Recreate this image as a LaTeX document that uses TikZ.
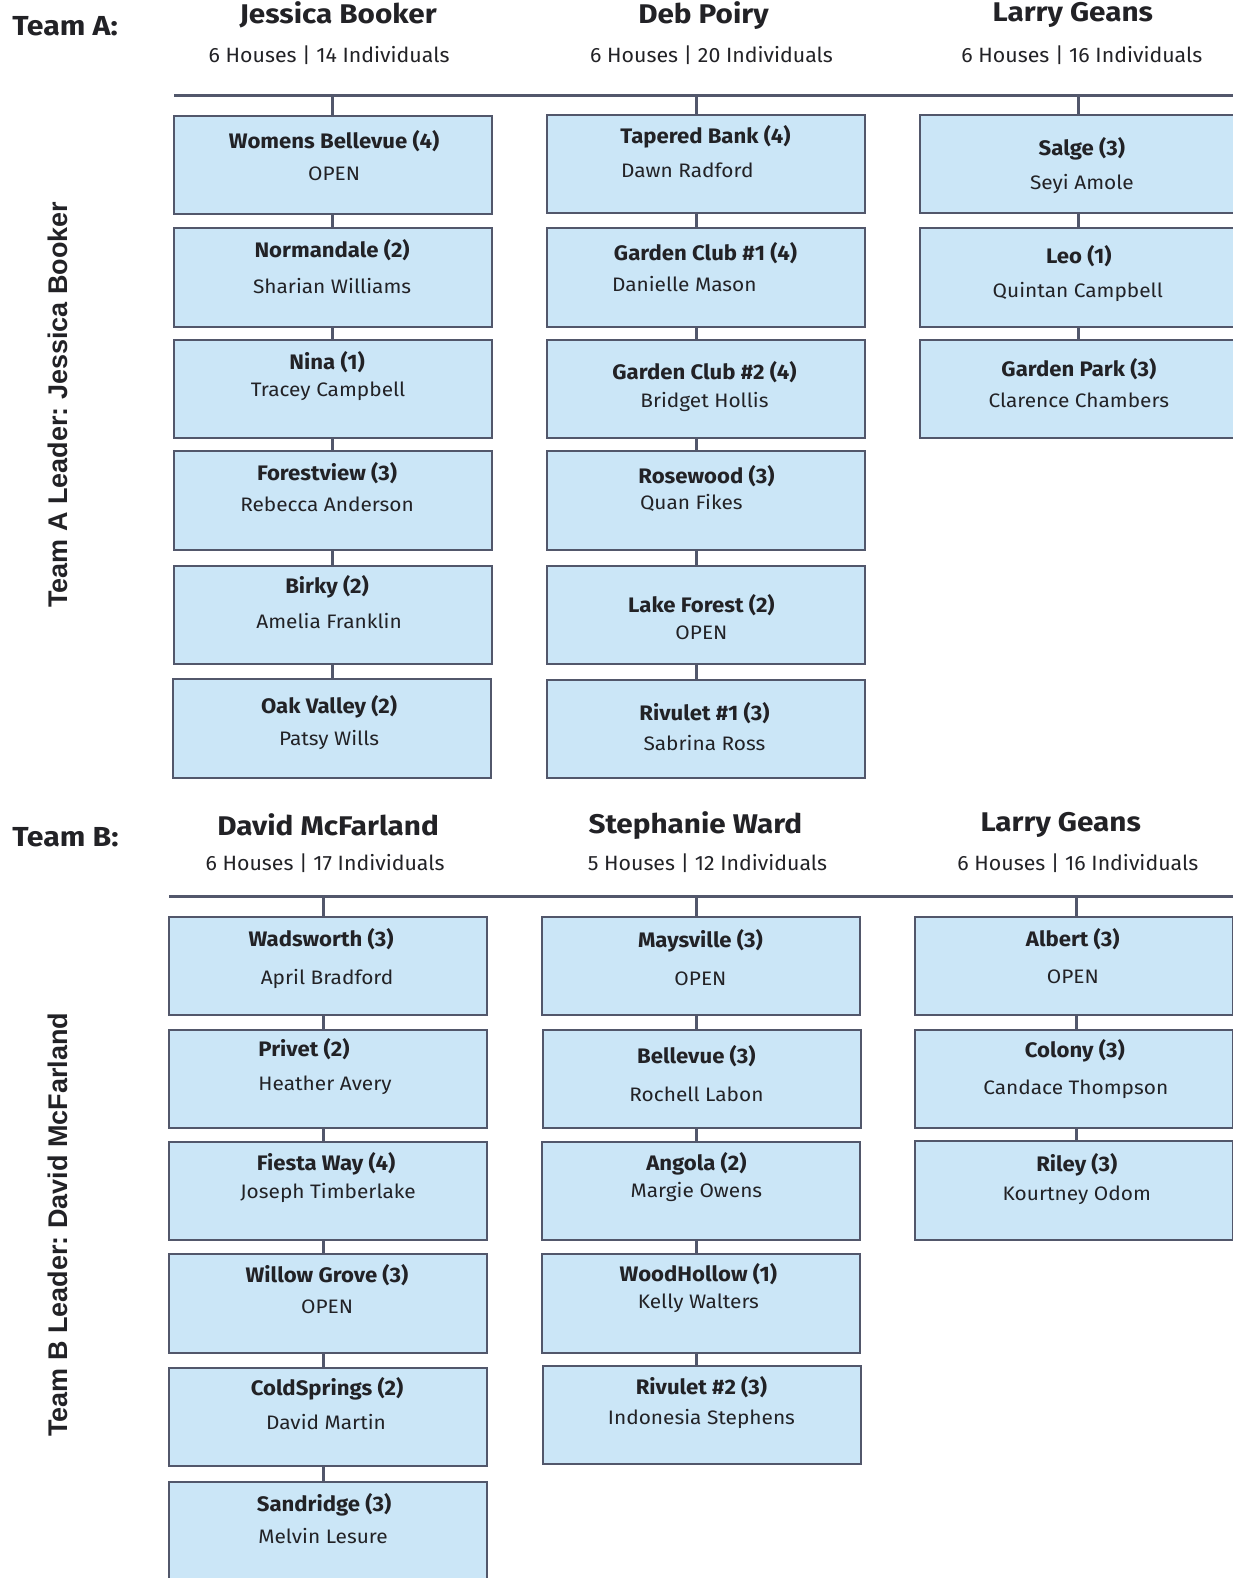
\documentclass[tikz,border=0pt]{standalone}
\usepackage{fontspec}
\setmainfont{Fira Sans}
\newfontfamily\ttlfont{Fira Sans}[FakeStretch=1.055]
\newfontfamily\subfont{Fira Sans}[FakeStretch=1.07]
\newfontfamily\headfont{Fira Sans}[FakeStretch=1.1]
\newfontfamily\hsubfont{Fira Sans}[FakeStretch=1.03]
\newfontfamily\lblfont{Liberation Sans}
\frenchspacing
\definecolor{boxc}{RGB}{203,230,247}
\definecolor{edgec}{RGB}{82,87,107}
\definecolor{txtc}{RGB}{34,34,38}
\tikzset{
  hbox/.style={draw=edgec, fill=boxc, line width=2pt, minimum width=318pt, minimum height=98.6pt, inner sep=0pt, outer sep=0pt},
  conn/.style={draw=edgec, line width=3pt},
  bus/.style={draw=edgec, line width=3.5pt},
  ttl/.style={font=\ttlfont\fontsize{21}{24}\selectfont\bfseries, text=txtc, inner sep=0pt},
  sub/.style={font=\subfont\fontsize{19.5}{22}\selectfont, text=txtc, inner sep=0pt},
  team/.style={font=\headfont\fontsize{27.5}{30}\selectfont\bfseries, text=txtc, inner sep=0pt},
  head/.style={font=\headfont\fontsize{27}{30}\selectfont\bfseries, text=txtc, inner sep=0pt},
  hsub/.style={font=\hsubfont\fontsize{20.7}{24}\selectfont, text=txtc, inner sep=0pt},
  vlbl/.style={font=\lblfont\fontsize{27}{30}\selectfont\bfseries, text=txtc, inner sep=0pt, rotate=90},
}
\begin{document}
\begin{tikzpicture}[x=1.0065pt, y=-1.0065pt]
\useasboundingbox (0,0) rectangle (1225,1568);
% ===== Team A =====
\node[team, anchor=west] (teamA) at (12,26) {Team A:};
\node[head] (hA1) at (336,15) {Jessica Booker};
\node[hsub] (sA1) at (327,55) {6 Houses | 14 Individuals};
\node[head] (hA2) at (699,15) {Deb Poiry};
\node[hsub] (sA2) at (707,55) {6 Houses | 20 Individuals};
\node[head] (hA3) at (1066,15) {Larry Geans};
\node[hsub] (sA3) at (1075,55) {6 Houses | 16 Individuals};
\node[vlbl] (vA) at (57,402) {Team A Leader: Jessica Booker};

\coordinate (busAl) at (173,95);
\coordinate (busAr) at (1232,95);
\draw[bus] (busAl) -- (busAr);
\coordinate (cA1) at (330,95);
\coordinate (cA2) at (692,95);
\coordinate (cA3) at (1072,95);

% column 1
\node[hbox] (a11) at (331,164) {};
\node[hbox] (a12) at (331,275.5) {};
\node[hbox] (a13) at (331,386.5) {};
\node[hbox] (a14) at (331,497.5) {};
\node[hbox] (a15) at (331,611) {};
\node[hbox] (a16) at (330,724) {};
% column 2
\node[hbox] (a21) at (701.5,163) {};
\node[hbox] (a22) at (701.5,275.5) {};
\node[hbox] (a23) at (701.5,386.5) {};
\node[hbox] (a24) at (701.5,497.5) {};
\node[hbox] (a25) at (701.5,611) {};
\node[hbox] (a26) at (701.5,724.5) {};
% column 3
\node[hbox] (a31) at (1072,163) {};
\node[hbox] (a32) at (1072,275.5) {};
\node[hbox] (a33) at (1072,386.5) {};

\draw[conn] (cA1) -- (a11.north -| cA1);
\draw[conn] (a11.south -| cA1) -- (a12.north -| cA1);
\draw[conn] (a12.south -| cA1) -- (a13.north -| cA1);
\draw[conn] (a13.south -| cA1) -- (a14.north -| cA1);
\draw[conn] (a14.south -| cA1) -- (a15.north -| cA1);
\draw[conn] (a15.south -| cA1) -- (a16.north -| cA1);
\draw[conn] (cA2) -- (a21.north -| cA2);
\draw[conn] (a21.south -| cA2) -- (a22.north -| cA2);
\draw[conn] (a22.south -| cA2) -- (a23.north -| cA2);
\draw[conn] (a23.south -| cA2) -- (a24.north -| cA2);
\draw[conn] (a24.south -| cA2) -- (a25.north -| cA2);
\draw[conn] (a25.south -| cA2) -- (a26.north -| cA2);
\draw[conn] (cA3) -- (a31.north -| cA3);
\draw[conn] (a31.south -| cA3) -- (a32.north -| cA3);
\draw[conn] (a32.south -| cA3) -- (a33.north -| cA3);

\node[ttl] (t11) at (332,140) {Womens Bellevue (4)};
\node[sub] (s11) at (332,173) {OPEN};
\node[ttl] (t12) at (330,249) {Normandale (2)};
\node[sub] (s12) at (330,284) {Sharian Williams};
\node[ttl] (t13) at (325,360) {Nina (1)};
\node[sub] (s13) at (326,389) {Tracey Campbell};
\node[ttl] (t14) at (325,470) {Forestview (3)};
\node[sub] (s14) at (325,501) {Rebecca Anderson};
\node[ttl] (t15) at (325,583) {Birky (2)};
\node[sub] (s15) at (327,617) {Amelia Franklin};
\node[ttl] (t16) at (327,702) {Oak Valley (2)};
\node[sub] (s16) at (327,735) {Patsy Wills};

\node[ttl] (t21) at (701,136) {Tapered Bank (4)};
\node[sub] (s21) at (683,169) {Dawn Radford};
\node[ttl] (t22) at (701,252) {Garden Club \#1 (4)};
\node[sub] (s22) at (680,282) {Danielle Mason};
\node[ttl] (t23) at (700,370) {Garden Club \#2 (4)};
\node[sub] (s23) at (700,399) {Bridget Hollis};
\node[ttl] (t24) at (702,473) {Rosewood (3)};
\node[sub] (s24) at (687,500) {Quan Fikes};
\node[ttl] (t25) at (697,601) {Lake Forest (2)};
\node[sub] (s25) at (697,629) {OPEN};
\node[ttl] (t26) at (700,709) {Rivulet \#1 (3)};
\node[sub] (s26) at (700,738) {Sabrina Ross};

\node[ttl] (t31) at (1075,148) {Salge (3)};
\node[sub] (s31) at (1075,183) {Seyi Amole};
\node[ttl] (t32) at (1072,255) {Leo (1)};
\node[sub] (s32) at (1071,290) {Quintan Campbell};
\node[ttl] (t33) at (1072,367) {Garden Park (3)};
\node[sub] (s33) at (1072,398) {Clarence Chambers};

% ===== Team B =====
\node[team, anchor=west] (teamB) at (12,832) {Team B:};
\node[head] (hB1) at (326,820) {David McFarland};
\node[hsub] (sB1) at (323,858) {6 Houses | 17 Individuals};
\node[head] (hB2) at (691,820) {Stephanie Ward};
\node[hsub] (sB2) at (703,858) {5 Houses | 12 Individuals};
\node[head] (hB3) at (1054,820) {Larry Geans};
\node[hsub] (sB3) at (1071,858) {6 Houses | 16 Individuals};
\node[vlbl] (vB) at (57,1217) {Team B Leader: David McFarland};

\coordinate (busBl) at (168,891);
\coordinate (busBr) at (1232,891);
\draw[bus] (busBl) -- (busBr);
\coordinate (cB1) at (321,891);
\coordinate (cB2) at (692,891);
\coordinate (cB3) at (1070,891);

\node[hbox] (b11) at (326,960) {};
\node[hbox] (b12) at (326,1072) {};
\node[hbox] (b13) at (326,1183.5) {};
\node[hbox] (b14) at (326,1295) {};
\node[hbox] (b15) at (326,1408) {};
\node[hbox] (b16) at (326,1522) {};
\node[hbox] (b21) at (697,960) {};
\node[hbox] (b22) at (697.5,1072) {};
\node[hbox] (b23) at (697,1183.5) {};
\node[hbox] (b24) at (697,1295) {};
\node[hbox] (b25) at (698,1406) {};
\node[hbox] (b31) at (1067,960) {};
\node[hbox] (b32) at (1067,1072) {};
\node[hbox] (b33) at (1067,1183) {};

\draw[conn] (cB1) -- (b11.north -| cB1);
\draw[conn] (b11.south -| cB1) -- (b12.north -| cB1);
\draw[conn] (b12.south -| cB1) -- (b13.north -| cB1);
\draw[conn] (b13.south -| cB1) -- (b14.north -| cB1);
\draw[conn] (b14.south -| cB1) -- (b15.north -| cB1);
\draw[conn] (b15.south -| cB1) -- (b16.north -| cB1);
\draw[conn] (cB2) -- (b21.north -| cB2);
\draw[conn] (b21.south -| cB2) -- (b22.north -| cB2);
\draw[conn] (b22.south -| cB2) -- (b23.north -| cB2);
\draw[conn] (b23.south -| cB2) -- (b24.north -| cB2);
\draw[conn] (b24.south -| cB2) -- (b25.north -| cB2);
\draw[conn] (cB3) -- (b31.north -| cB3);
\draw[conn] (b31.south -| cB3) -- (b32.north -| cB3);
\draw[conn] (b32.south -| cB3) -- (b33.north -| cB3);

\node[ttl] (u11) at (319,933) {Wadsworth (3)};
\node[sub] (v11) at (325,973) {April Bradford};
\node[ttl] (u12) at (302,1042) {Privet (2)};
\node[sub] (v12) at (323,1078) {Heather Avery};
\node[ttl] (u13) at (324,1156) {Fiesta Way (4)};
\node[sub] (v13) at (326,1185) {Joseph Timberlake};
\node[ttl] (u14) at (325,1267) {Willow Grove (3)};
\node[sub] (v14) at (325,1298) {OPEN};
\node[ttl] (u15) at (325,1380) {ColdSprings (2)};
\node[sub] (v15) at (324,1413) {David Martin};
\node[ttl] (u16) at (322,1495) {Sandridge (3)};
\node[sub] (v16) at (321,1526) {Melvin Lesure};

\node[ttl] (u21) at (696,935) {Maysville (3)};
\node[sub] (v21) at (696,973) {OPEN};
\node[ttl] (u22) at (692,1049) {Bellevue (3)};
\node[sub] (v22) at (692,1087) {Rochell Labon};
\node[ttl] (u23) at (692,1156) {Angola (2)};
\node[sub] (v23) at (692,1184) {Margie Owens};
\node[ttl] (u24) at (694,1266) {WoodHollow (1)};
\node[sub] (v24) at (694,1295) {Kelly Walters};
\node[ttl] (u25) at (697,1378) {Rivulet \#2 (3)};
\node[sub] (v25) at (697,1410) {Indonesia Stephens};

\node[ttl] (u31) at (1066,933) {Albert (3)};
\node[sub] (v31) at (1066,971) {OPEN};
\node[ttl] (u32) at (1068,1044) {Colony (3)};
\node[sub] (v32) at (1069,1082) {Candace Thompson};
\node[ttl] (u33) at (1070,1157) {Riley (3)};
\node[sub] (v33) at (1070,1188) {Kourtney Odom};
\end{tikzpicture}
\end{document}
